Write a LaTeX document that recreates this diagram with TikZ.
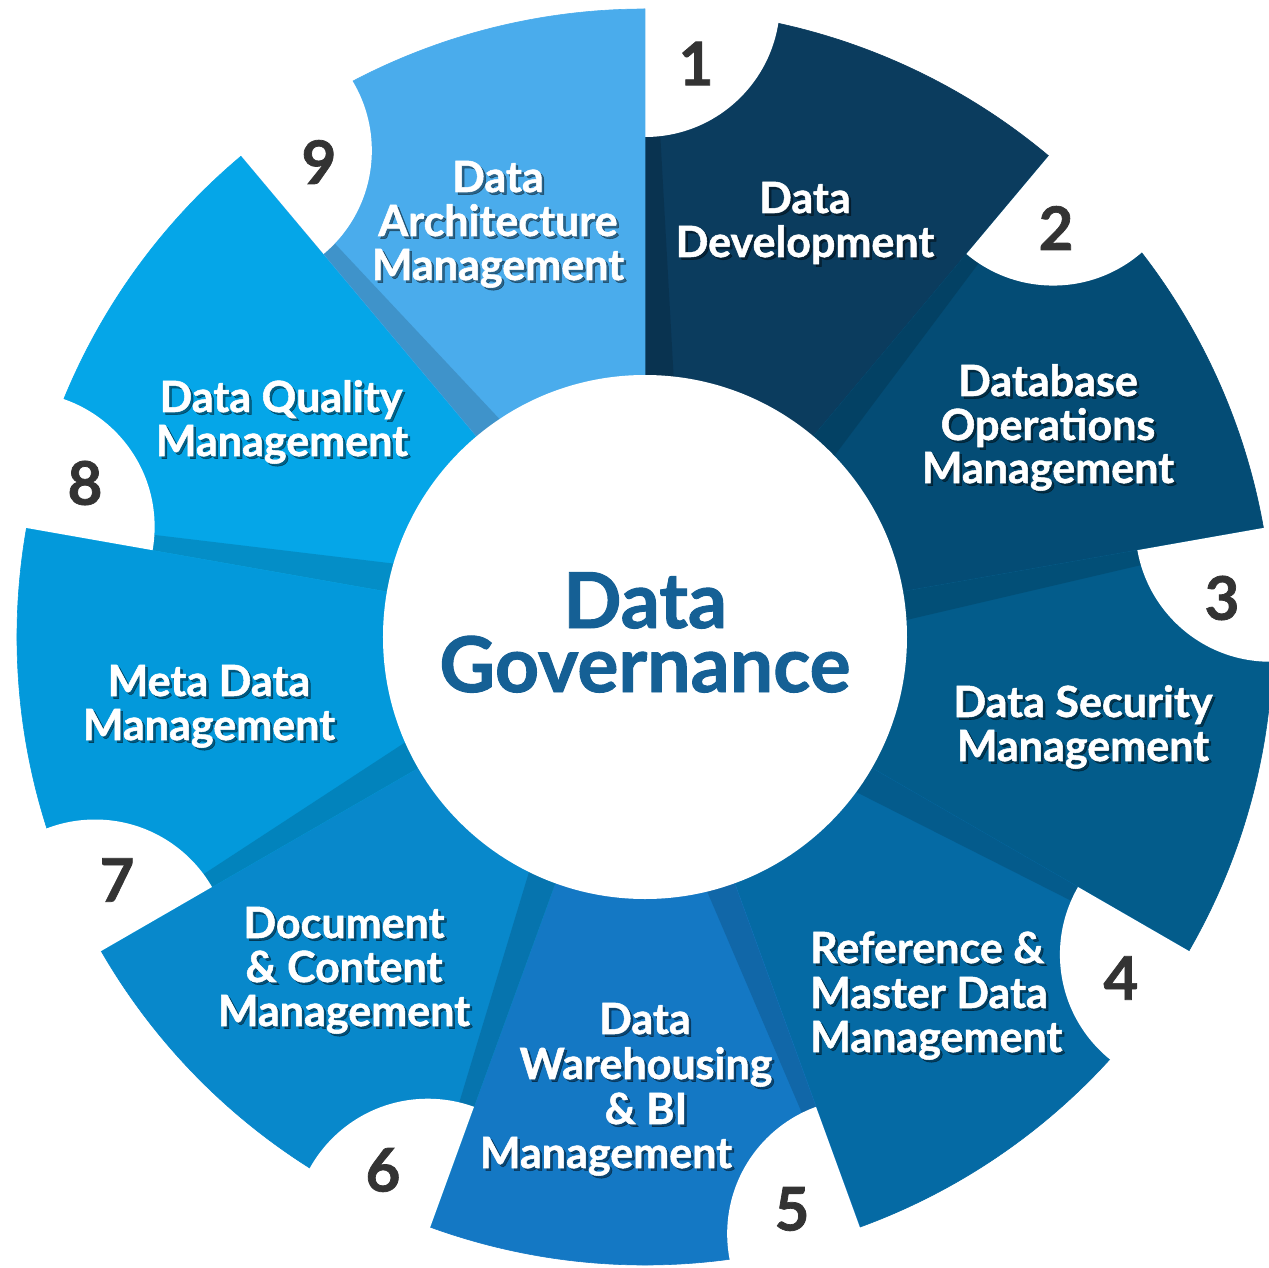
\documentclass[tikz,border=0pt]{standalone}
\usepackage{fontspec}
\setmainfont{Lato}[BoldFeatures={FakeBold=1.2}]
\usetikzlibrary{calc}
\definecolor{s1}{RGB}{11,60,94}
\definecolor{s2}{RGB}{4,76,117}
\definecolor{s3}{RGB}{3,92,139}
\definecolor{s4}{RGB}{5,106,164}
\definecolor{s5}{RGB}{20,120,196}
\definecolor{s6}{RGB}{8,136,203}
\definecolor{s7}{RGB}{3,153,219}
\definecolor{s8}{RGB}{5,166,232}
\definecolor{s9}{RGB}{74,172,236}
\definecolor{govblue}{RGB}{21,96,149}
\definecolor{numgray}{RGB}{51,51,51}
\tikzset{
  lbltx/.style={anchor=base, text=white, inner sep=0pt,
    font=\fontsize{43}{45}\selectfont\bfseries},
  lblsh/.style={lbltx, text=black, text opacity=0.42},
  numtx/.style={anchor=center, text=numgray, inner sep=0pt,
    font=\fontsize{60}{62}\selectfont\bfseries},
  govtx/.style={anchor=center, text=govblue, inner sep=0pt, align=center,
    font=\fontsize{77}{64}\selectfont\bfseries},
}
\newcommand\lbl[5][base]{%
  \node[lblsh, anchor=#1] (#2s) at (#3+2.5,#4+2.5) {#5};
  \node[lbltx, anchor=#1] (#2) at (#3,#4) {#5};
}
\begin{document}
\begin{tikzpicture}[x=1pt,y=1pt]
\useasboundingbox (-645,-630) rectangle (624,637);
% segments
\foreach \k/\c in {1/s1,2/s2,3/s3,4/s4,5/s5,6/s6,7/s7,8/s8,9/s9} {
  \pgfmathsetmacro\s{90-40*(\k-1)}
  \pgfmathsetmacro\e{\s-40}
  \fill[\c, draw=\c, line width=0.6pt] (0,0) -- (\s:628) arc[start angle=\s, end angle=\e, radius=628] -- cycle;
  \begin{scope}[rotate=\s]
    \fill[black, opacity=0.14] (200,0) -- (525,0) -- (525,-14) -- (200,-32) -- cycle;
  \end{scope}
  \begin{scope}
    \clip (0,0) -- (\s:720) arc[start angle=\s, end angle=\e, radius=720] -- cycle;
    \fill[white] (\s:635) circle[radius=135];
  \end{scope}
}
% inner circle
\fill[white] (0,0) circle[radius=262];
% texts in image coordinates
\begin{scope}[shift={(-645,637)}, yscale=-1]
  \node[govtx] (gov) at (645,632.5) {Data\\Governance};
  % numbers
  \node[numtx] (n1) at (696,63.5) {1};
  \node[numtx] (n2) at (1056,228) {2};
  \node[numtx] (n3) at (1222,598) {3};
  \node[numtx] (n4) at (1121,978) {4};
  \node[numtx] (n5) at (792,1209) {5};
  \node[numtx] (n6) at (383,1170) {6};
  \node[numtx] (n7) at (117,880) {7};
  \node[numtx] (n8) at (85,483) {8};
  \node[numtx] (n9) at (319,162) {9};
  % labels
  \lbl{l1a}{805}{213}{Data}
  \lbl{l1b}{805}{257}{Development}
  \lbl{l2a}{1048}{396}{Database}
  \lbl{l2b}{1048}{440}{Operations}
  \lbl{l2c}{1048}{483}{Management}
  \lbl{l3a}{1083}{717}{Data Security}
  \lbl{l3b}{1083}{761}{Management}
  \lbl[base west]{l4a}{810}{963}{Reference \&}
  \lbl[base west]{l4b}{810}{1008}{Master Data}
  \lbl[base west]{l4c}{810}{1052}{Management}
  \lbl{l5a}{645}{1034}{Data}
  \lbl{l5b}{646}{1079}{Warehousing}
  \lbl{l5c}{646}{1124}{\& BI}
  \lbl{l5d}{606}{1168}{Management}
  \lbl{l6a}{344}{938}{Document}
  \lbl{l6b}{344}{982}{\& Content}
  \lbl{l6c}{344}{1026}{Management}
  \lbl{l7a}{209}{696}{Meta Data}
  \lbl{l7b}{209}{740}{Management}
  \lbl{l8a}{281}{412}{Data Quality}
  \lbl{l8b}{282}{456}{Management}
  \lbl{l9a}{498}{192}{Data}
  \lbl{l9b}{498}{236}{Architecture}
  \lbl{l9c}{498}{280}{Management}
\end{scope}
\end{tikzpicture}
\end{document}
